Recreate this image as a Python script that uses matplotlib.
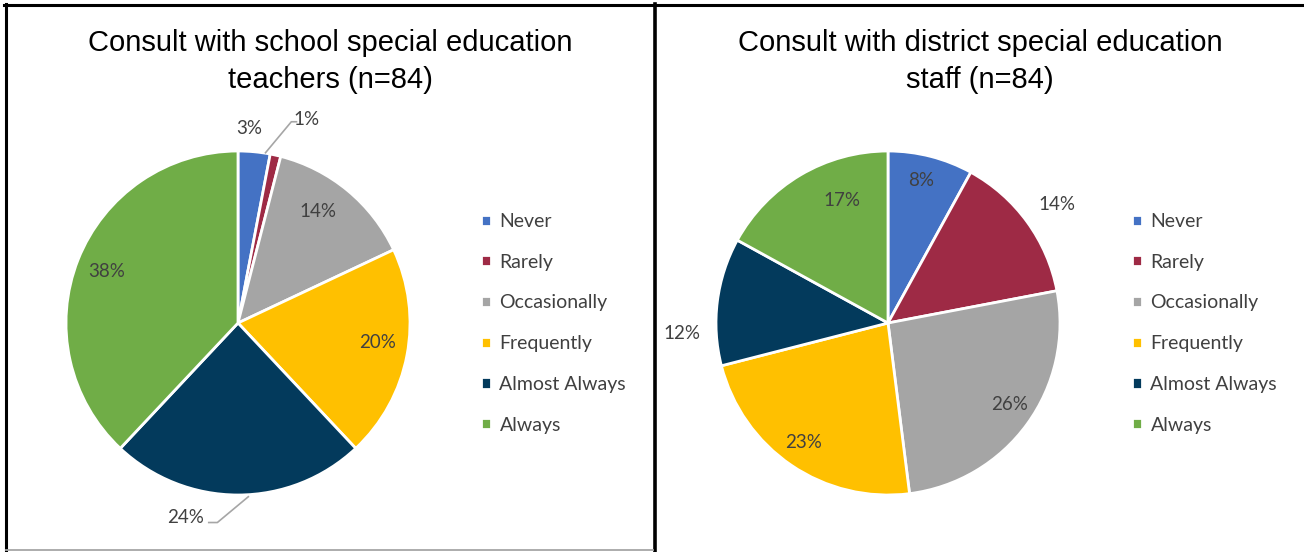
import numpy as np
import matplotlib.pyplot as plt
from matplotlib.lines import Line2D

categories = ["Never", "Rarely", "Occasionally", "Frequently", "Almost Always", "Always"]
school_pct = [3, 1, 14, 20, 24, 38]
district_pct = [8, 14, 26, 23, 12, 17]
titles = ["Consult with school special education\nteachers (n=84)",
          "Consult with district special education\nstaff (n=84)"]

colors = ["#4472C4", "#9E2A45", "#A5A5A5", "#FFC000", "#033A5C", "#70AD47"]
label_color = "#404040"

W, H = 1304, 552
fig = plt.figure(figsize=(W / 100, H / 100), dpi=100)
fig.patch.set_facecolor("white")

R = 172  # pie radius in px
SPAN = 1.6  # axes half-extent in pie units


def px_axes(cx, cy):
    half = R * SPAN
    return fig.add_axes([(cx - half) / W, (H - cy - half) / H, 2 * half / W, 2 * half / H])


def draw_pie(ax, values, dists, offsets, leaders):
    wedges, _ = ax.pie(values, colors=colors, startangle=90, counterclock=False,
                       radius=1, wedgeprops=dict(edgecolor="white", linewidth=2))
    for i, w in enumerate(wedges):
        mid = np.deg2rad((w.theta1 + w.theta2) / 2 + offsets[i])
        d = dists[i]
        x, y = d * np.cos(mid), d * np.sin(mid)
        ax.text(x, y, f"{values[i]}%", ha="center", va="center", fontsize=13.5,
                color=label_color, family="Lato")
    for pts in leaders:
        xs, ys = zip(*pts)
        ax.plot(xs, ys, color="#A6A6A6", lw=1.2, clip_on=False)
    ax.set_xlim(-SPAN, SPAN)
    ax.set_ylim(-SPAN, SPAN)
    ax.set_aspect("equal")
    ax.axis("off")
    return wedges


# left pie
ax1 = px_axes(238, 323)
w1 = draw_pie(ax1, school_pct,
              dists=[1.13, 1.25, 0.8, 0.82, 1.17, 0.82],
              offsets=[2, -6, 4, 3, -15, 0],
              leaders=[[(0.16, 0.99), (0.31, 1.17), (0.34, 1.17)],
                       [(0.06, -1.01), (-0.12, -1.16), (-0.17, -1.16)]])

# right pie
ax2 = px_axes(888, 323)
draw_pie(ax2, district_pct,
         dists=[0.85, 1.2, 0.85, 0.85, 1.2, 0.76],
         offsets=[1.5, -1, 2, -1, 10, -10],
         leaders=[])

for cx, t in zip([330, 980], titles):
    fig.text(cx / W, 1 - 61.5 / H, t, ha="center", va="center", fontsize=21,
             family="Liberation Sans", color="black", linespacing=1.4)

for lx in [481, 1132]:
    fig.legend(w1, categories, loc="upper left",
               bbox_to_anchor=(lx / W, 1 - 213 / H), frameon=False,
               prop=dict(family="Lato", size=14), labelcolor=label_color,
               handlelength=0.5, handleheight=0.5, handletextpad=0.45,
               labelspacing=1.22, borderpad=0, borderaxespad=0)

# panel borders
fig.add_artist(Line2D([4 / W, 1], [1 - 4.5 / H] * 2, color="black", lw=2.2, transform=fig.transFigure))
fig.add_artist(Line2D([5.5 / W] * 2, [0, 1 - 3.5 / H], color="black", lw=2.2, transform=fig.transFigure))
fig.add_artist(Line2D([655 / W] * 2, [0, 1 - 3.5 / H], color="black", lw=2.6, transform=fig.transFigure))
fig.add_artist(Line2D([5.5 / W, 653 / W], [1 - 550 / H] * 2, color="#A6A6A6", lw=1.3, transform=fig.transFigure))

fig.savefig("out.png", dpi=100, facecolor="white")
